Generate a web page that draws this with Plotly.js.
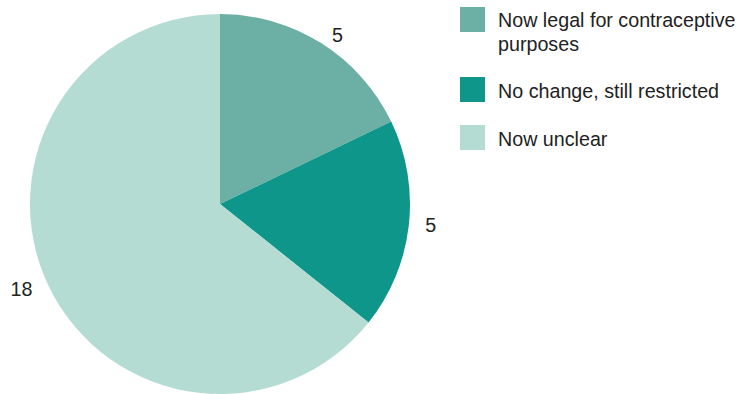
<!DOCTYPE html>
<html>
<head>
<meta charset="utf-8">
<script src="https://cdn.plot.ly/plotly-3.0.1.min.js"></script>
<style>html,body{margin:0;padding:0;background:#fff;}#chart{width:740px;height:394px;}</style>
</head>
<body>
<div id="chart"></div>
<script>
const categories = ["Now legal for contraceptive<br>purposes", "No change, still restricted", "Now unclear"];
const values = [5, 5, 18];
const colors = ["#6cafa4", "#0e968a", "#b4dcd3"];

const W = 740, H = 394;
const px = x => x / W;
const py = y => 1 - y / H;
const FONT = "Liberation Sans, Arial, sans-serif";
const FS = 19.7;

// label templates: horizontal padding only, the value comes from the data
const labelTemplates = [
  "\u00a0%{value}",
  "\u00a0\u00a0%{value}",
  "%{value}\u00a0\u00a0"
];

const trace = {
  type: "pie",
  labels: categories,
  values: values,
  sort: false,
  direction: "clockwise",
  rotation: 0,
  marker: {colors: colors, line: {width: 0}},
  texttemplate: labelTemplates,
  textposition: "outside",
  outsidetextfont: {family: FONT, size: FS, color: "#222"},
  automargin: false,
  showlegend: false,
  hoverinfo: "label+value",
  domain: {x: [px(30), px(410)], y: [0, py(14)]}
};

// custom legend (larger swatches as in the reference)
const swatchTops = [7, 77, 125];
const baselines = [27.3, 98.3, 145.7];
const lineGap = 23.3;
const ascent = 0.905 * FS;
const shapes = [];
const annotations = [];
categories.forEach((c, i) => {
  const t = swatchTops[i];
  shapes.push({type: "rect", xref: "paper", yref: "paper",
    x0: px(460), x1: px(485), y0: py(t), y1: py(t + 25),
    fillcolor: colors[i], line: {width: 0}});
  c.split("<br>").forEach((ln, j) => {
    annotations.push({xref: "paper", yref: "paper", x: px(498),
      y: py(baselines[i] + j * lineGap - ascent),
      xanchor: "left", yanchor: "top", align: "left", showarrow: false, text: ln,
      borderpad: 0, borderwidth: 0,
      font: {family: FONT, size: FS, color: "#222"}});
  });
});

const layout = {
  width: W, height: H,
  margin: {l: 0, r: 0, t: 0, b: 0},
  paper_bgcolor: "#fff",
  showlegend: false,
  shapes: shapes,
  annotations: annotations
};

Plotly.newPlot("chart", [trace], layout, {displayModeBar: false, staticPlot: true});
</script>
</body>
</html>
